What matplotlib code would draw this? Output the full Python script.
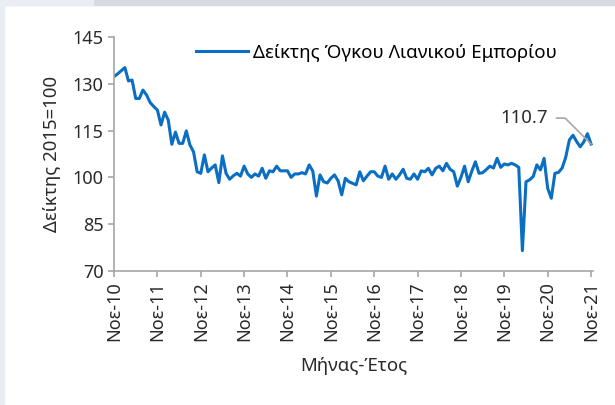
import matplotlib.pyplot as plt
from matplotlib.patches import Rectangle

plt.rcParams['font.family'] = ['Noto Sans', 'DejaVu Sans']

# monthly index values, Nov 2010 .. Nov 2021
values = [
    132.3, 133.2, 134.2, 135.2, 130.9, 131.2, 125.3, 125.3, 128.0, 126.4,
    124.0, 122.7, 121.6, 116.8, 120.9, 118.4, 110.6, 114.5, 110.9, 110.9,
    114.9, 110.4, 108.2, 101.8, 101.3, 107.2, 101.8, 103.0, 104.0, 98.3,
    106.9, 101.3, 99.4, 100.5, 101.3, 100.4, 103.6, 101.1, 100.0, 101.1,
    100.4, 102.9, 99.7, 102.1, 101.8, 103.6, 102.1, 102.1, 102.1, 100.0,
    101.1, 101.1, 101.5, 101.1, 104.0, 102.0, 94.0, 100.8, 98.6, 98.2,
    99.7, 100.8, 98.9, 94.4, 99.7, 98.6, 98.1, 97.6, 101.8, 98.9,
    100.4, 101.8, 101.8, 100.4, 100.0, 103.6, 99.4, 101.1, 99.4, 100.8,
    102.6, 99.7, 99.4, 101.1, 99.4, 102.1, 101.8, 102.9, 100.8, 102.9,
    103.6, 102.1, 104.5, 102.6, 101.8, 97.2, 100.0, 103.6, 98.6, 102.0,
    105.0, 101.3, 101.5, 102.5, 103.6, 103.0, 106.1, 103.2, 104.3, 104.0,
    104.5, 104.0, 103.2, 76.5, 98.6, 99.2, 100.3, 104.0, 102.4, 106.1,
    96.5, 93.3, 101.3, 101.6, 103.0, 106.5, 112.0, 113.5, 111.5, 109.8,
    111.4, 114.0, 110.7,
]
tick_labels = ['Νοε-10', 'Νοε-11', 'Νοε-12', 'Νοε-13', 'Νοε-14', 'Νοε-15',
               'Νοε-16', 'Νοε-17', 'Νοε-18', 'Νοε-19', 'Νοε-20', 'Νοε-21']
series_name = 'Δείκτης Όγκου Λιανικού Εμπορίου'
last_label = '110.7'

fig = plt.figure(figsize=(6.15, 4.05), dpi=100)
# light frame strips at the top and left edge
fig.patches.append(Rectangle((0, 0.987), 1, 0.013, transform=fig.transFigure,
                             color='#d6dbe3', zorder=0))
fig.patches.append(Rectangle((0, 0.987), 0.151, 0.013, transform=fig.transFigure,
                             color='#e9edf4', zorder=0))
fig.patches.append(Rectangle((0, 0), 0.006, 1, transform=fig.transFigure,
                             color='#e9edf4', zorder=0))

ax = fig.add_axes([0.1854, 0.331, 0.7786, 0.5776])
x = list(range(len(values)))
ax.plot(x, values, color='#0a6fc2', lw=2.2, label=series_name)

ax.set_xlim(0, len(values) - 0.5)
ax.set_ylim(70, 145)
ax.set_yticks([70, 85, 100, 115, 130, 145])
ax.set_xticks(range(0, len(values), 12))
ax.set_xticklabels(tick_labels, rotation=90)

for s in ['top', 'right']:
    ax.spines[s].set_visible(False)
for s in ['left', 'bottom']:
    ax.spines[s].set_color('#a6a6a6')
    ax.spines[s].set_linewidth(1.2)
ax.tick_params(colors='#a6a6a6', labelcolor='#2a2a2a', labelsize=13, length=4, width=1.2)

ax.set_ylabel('Δείκτης 2015=100', fontsize=13.4, color='#2a2a2a', labelpad=8)
ax.set_xlabel('Μήνας-Έτος', fontsize=13.4, color='#2a2a2a', labelpad=11)

ax.legend(loc='center left', bbox_to_anchor=(0.171, 0.932), frameon=False,
          fontsize=13.5, handlelength=2.77, handletextpad=0.27,
          borderpad=0, borderaxespad=0)

# label for the last value with a connector
n = len(values) - 1
ax.annotate(last_label, xy=(n, values[-1]), xytext=(n - 11.9, 119.0),
            fontsize=13.4, color='#2a2a2a', ha='right', va='center',
            arrowprops=dict(arrowstyle='-', color='#a6a6a6', lw=1.2,
                            connectionstyle='angle,angleA=0,angleB=135,rad=0',
                            shrinkA=4, shrinkB=0))

fig.savefig('out.png', dpi=100)
